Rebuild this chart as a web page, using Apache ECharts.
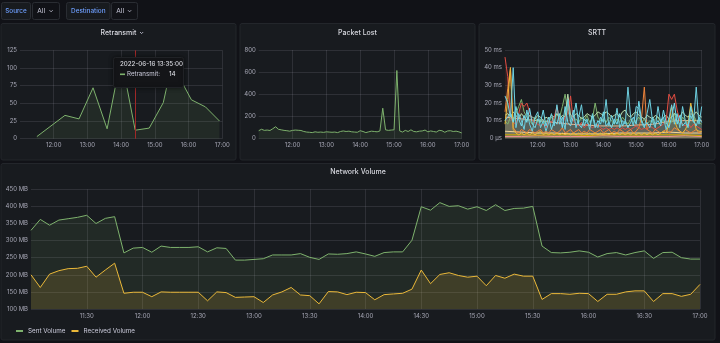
<!DOCTYPE html>
<html>
<head>
<meta charset="utf-8">
<script src="https://cdn.jsdelivr.net/npm/echarts@6/dist/echarts.min.js"></script>
<style>
html,body{margin:0;padding:0;background:#111217;}
#c{width:720px;height:343px;}
</style>
</head>
<body>
<div id="c"></div>
<script>
// ---------------- DATA ----------------
const sourceLabel = "Source";
const destinationLabel = "Destination";
const allLabel = "All";
const panelTitles = ["Retransmit", "Packet Lost", "SRTT", "Network Volume"];

const rangeStart = "11:00";
const rangeEnd = "17:00";
const stepMinutes = 5;

const retransmitTimes = ["11:30","12:20","12:45","13:10","13:35","14:00","14:25","14:50","15:15","15:28","15:40","16:05","16:30","16:55"];
const retransmitValues = [3,33,28,72,14,115,12,15,51,98,92,55,45,25];
const crosshairTime = "14:25";
const tooltipDate = "2022-06-16 13:35:00";
const tooltipSeries = "Retransmit:";
const tooltipValue = "14";

const packetLostValues = [
  72,85,75,78,74,90,108,85,80,75,72,68,
  75,78,76,74,65,60,58,55,62,58,60,57,
  62,60,58,60,55,65,70,65,68,62,60,58,
  72,65,55,62,68,65,62,70,275,80,75,78,
  80,615,70,60,75,65,80,65,62,68,70,78,
  62,70,65,60,75,72,58,70,72,65,68,62,
  52
];

const srttCyanA = [
  24,20,12,40,6,14,10,5,16,8,4,12,
  15,6,10,4,9,14,7,19,8,12,5,22,
  9,16,6,12,19,7,11,5,14,8,6,12,
  9,22,7,13,8,17,6,10,8,29,12,7,
  18,17,9,6,14,22,10,6,18,9,12,5,
  11,19,8,14,6,18,10,7,13,9,29,8,
  18
];
const srttCyanB = [
  10,12,14,9,18,11,7,13,9,17,8,6,
  11,9,16,7,12,5,10,8,14,6,18,9,
  7,12,20,8,6,11,9,7,13,6,10,8,
  15,7,9,6,11,8,14,7,10,6,9,12,
  8,21,10,7,9,6,12,8,10,7,16,9,
  6,12,20,8,13,7,9,6,18,10,7,12,
  9
];
const srttPaleGreen = [
  13,14,12,15,13,11,14,12,10,13,12,11,
  13,12,10,12,11,13,12,14,11,13,12,25,
  13,12,14,13,11,12,14,13,12,13,15,14,
  13,15,14,12,13,14,12,15,16,13,12,14,
  15,13,12,11,13,12,11,13,12,10,12,13,
  11,12,14,13,12,15,13,12,14,13,15,13,
  12
];
const srttRed = [
  46,35,12,9,8,14,20,18,20,15,10,9,
  8,7,8,6,10,9,12,18,10,8,12,14,
  24,10,8,7,9,6,8,7,6,7,8,6,
  5,6,5,6,5,6,5,6,5,6,5,6,
  7,6,5,6,5,7,6,5,6,7,8,10,
  25,22,25,16,10,8,7,9,6,8,7,6,
  5
];
const srttOrange = [
  15,28,40,6,4,3,5,4,3,5,4,3,
  4,5,3,4,3,5,4,3,4,6,3,4,
  5,3,4,5,3,4,3,5,4,3,4,5,
  3,4,5,3,4,3,5,4,3,4,5,3,
  4,6,12,29,5,4,3,5,4,3,4,5,
  3,4,6,5,4,3,5,4,3,4,5,3,
  4
];
const srttYellow = [
  8,22,40,5,3,2,3,2,3,2,3,2,
  3,4,2,3,2,3,2,3,2,3,2,3,
  2,3,2,3,2,3,2,3,2,3,2,3,
  2,3,2,3,2,3,2,3,2,3,2,3,
  2,3,2,3,2,3,2,3,2,3,4,3,
  8,18,10,6,4,3,5,8,20,12,5,4,
  4
];
const srttGreen = [
  10,8,12,9,14,18,22,15,12,10,8,12,
  9,11,8,10,9,12,10,14,12,18,25,15,
  12,10,11,9,12,10,13,9,11,20,12,10,
  11,9,12,10,8,11,9,12,10,8,11,9,
  10,12,9,11,8,10,9,11,12,9,10,8,
  11,9,14,10,8,12,10,9,11,13,10,9,
  8
];
const srttSmoothTimes = ["11:00","11:30","12:00","12:30","13:00","13:30","14:00","14:30","15:00","15:30","16:00","16:30","17:00"];
const srttPeach = [12,11,10,9,8,7.5,7,7,7.5,8,9.5,10,10];
const srttLowYellow = [4,3.5,3,3,2.5,2.5,2.5,3,3,3,3.5,3,3];
const srttLowPink = [1,1,1.5,1,1,1,1.5,1,1,1,1,1.5,1];
const srttLowGold = [2,2,1.8,2,2,1.5,2,2,1.8,2,2,2,1.5];

const sentVolume = [
  330,362,345,360,364,368,374,350,365,370,264,278,
  280,266,284,280,280,280,282,267,279,277,243,243,
  245,247,258,258,258,262,251,245,261,260,262,267,
  261,254,265,267,267,301,399,389,411,400,402,392,
  399,388,405,388,394,395,400,284,265,264,266,270,
  266,252,262,265,258,265,270,248,265,266,250,246,
  246
];
const receivedVolume = [
  200,163,202,212,218,219,225,193,214,234,146,149,
  149,136,150,149,149,149,149,124,150,148,134,135,
  136,119,141,150,163,141,139,115,151,150,142,149,
  148,127,142,144,146,158,214,174,201,206,198,193,
  196,168,198,190,202,196,196,128,145,145,143,146,
  145,122,143,143,150,153,153,122,145,145,137,143,
  172
];
const volumeLegend = ["Sent Volume", "Received Volume"];

// ---------------- HELPERS ----------------
function absMin(t){ const p = t.split(':').map(Number); return p[0]*60 + p[1]; }
const baseMin = absMin(rangeStart);
const spanMin = absMin(rangeEnd) - baseMin;
function toX(t){ return absMin(t) - baseMin; }
function fmt(m){ const a = baseMin + m; const h = Math.floor(a/60), mm = a % 60; return (h<10?'0':'')+h+':'+(mm<10?'0':'')+mm; }
const gridTimes = [];
for (let m = 0; m <= spanMin; m += stepMinutes) gridTimes.push(fmt(m));
function pairs(times, vals){ return vals.map((v,i)=>[toX(times[i]), v]); }

const FONT = 'Inter';
const gridColor = 'rgba(204,204,220,0.12)';
const labelColor = 'rgba(204,204,220,0.78)';
const titleColor = '#d8d9e0';

function xAxisCfg(gi, interval){
  return {type:'value', gridIndex:gi, min:0, max:spanMin, interval:interval,
    axisLine:{show:false}, axisTick:{show:false},
    splitLine:{show:true, showMinLine:false, lineStyle:{color:gridColor, width:1}},
    axisLabel:{color:labelColor, fontSize:6, fontFamily:FONT, margin:4,
      formatter:v => v===0 ? '' : fmt(v)}};
}
function yAxisCfg(gi, min, max, interval, fmtFn){
  return {type:'value', gridIndex:gi, min:min, max:max, interval:interval,
    axisLine:{show:false}, axisTick:{show:false},
    splitLine:{show:true, lineStyle:{color:gridColor, width:1}},
    axisLabel:{color:labelColor, fontSize:6, fontFamily:FONT, margin:3, formatter:fmtFn}};
}
function lineSeries(name, gi, data, color, fillOpacity, extra){
  return Object.assign({name:name, type:'line', xAxisIndex:gi, yAxisIndex:gi, data:data,
    showSymbol:false, symbol:'none', silent:true, animation:false,
    lineStyle:{color:color, width:1}, itemStyle:{color:color},
    areaStyle:{color:color, opacity:fillOpacity}, emphasis:{disabled:true}}, extra||{});
}

// ---------------- CHART ----------------
const chart = echarts.init(document.getElementById('c'), null, {renderer:'canvas'});

const srttSeries = [
  lineSeries('lowPink', 2, pairs(srttSmoothTimes, srttLowPink), '#F29191', 0.1),
  lineSeries('lowGold', 2, pairs(srttSmoothTimes, srttLowGold), '#CCA300', 0.1),
  lineSeries('lowYellow', 2, pairs(srttSmoothTimes, srttLowYellow), '#F4D598', 0.1),
  lineSeries('peach', 2, pairs(srttSmoothTimes, srttPeach), '#F9BA8F', 0.1, {smooth:true}),
  lineSeries('green', 2, pairs(gridTimes, srttGreen), '#7EB26D', 0.1),
  lineSeries('paleGreen', 2, pairs(gridTimes, srttPaleGreen), '#B7DBAB', 0.1),
  lineSeries('red', 2, pairs(gridTimes, srttRed), '#E24D42', 0.1),
  lineSeries('orange', 2, pairs(gridTimes, srttOrange), '#EF843C', 0.1),
  lineSeries('yellow', 2, pairs(gridTimes, srttYellow), '#EAB839', 0.1),
  lineSeries('cyanB', 2, pairs(gridTimes, srttCyanB), '#70DBED', 0.1),
  lineSeries('cyanA', 2, pairs(gridTimes, srttCyanA), '#6ED0E0', 0.1)
];

const gfx = [];
function panel(x,y,w,h){ gfx.push({type:'rect', z:-10, shape:{x:x,y:y,width:w,height:h,r:2}, style:{fill:'#181b1f', stroke:'#23262b', lineWidth:1}}); }
function txt(x,y,s,opt){ gfx.push({type:'text', z:(opt&&opt.z)||5, x:x, y:y, style:Object.assign({text:s, fill:titleColor, font:'500 7px '+FONT, textAlign:'center', textVerticalAlign:'middle'}, (opt&&opt.style)||{})}); }
function chevron(x,y,z){ gfx.push({type:'polyline', z:z||5, shape:{points:[[x,y],[x+1.6,y+1.6],[x+3.2,y]]}, style:{stroke:'#ccccdc', lineWidth:0.8, fill:null}}); }

// top bar
gfx.push({type:'rect', z:-10, shape:{x:1.5,y:2.5,width:29,height:17,r:2}, style:{fill:'#181b1f', stroke:'#2a2d33', lineWidth:1}});
gfx.push({type:'rect', z:-10, shape:{x:32.5,y:2.5,width:27,height:17,r:2}, style:{fill:'#111217', stroke:'#2a2d33', lineWidth:1}});
gfx.push({type:'rect', z:-10, shape:{x:66.5,y:2.5,width:43.5,height:17,r:2}, style:{fill:'#181b1f', stroke:'#2a2d33', lineWidth:1}});
gfx.push({type:'rect', z:-10, shape:{x:111.5,y:2.5,width:26,height:17,r:2}, style:{fill:'#111217', stroke:'#2a2d33', lineWidth:1}});
txt(16, 11, sourceLabel, {style:{fill:'#6E9FFF', font:'500 6.4px '+FONT}});
txt(37.3, 11, allLabel, {style:{fill:'#ccccdc', font:'6.6px '+FONT, textAlign:'left'}});
chevron(49.5, 10.2);
txt(88.3, 11, destinationLabel, {style:{fill:'#6E9FFF', font:'500 6.4px '+FONT}});
txt(116.3, 11, allLabel, {style:{fill:'#ccccdc', font:'6.6px '+FONT, textAlign:'left'}});
chevron(128, 10.2);

// panels
panel(1, 23.5, 235, 136.5);
panel(240, 23.5, 235, 136.5);
panel(479, 23.5, 236, 136.5);
panel(1, 163.5, 714, 176.5);
txt(118.5, 32.5, panelTitles[0]);
chevron(140, 32);
txt(357.5, 32.5, panelTitles[1]);
txt(597, 32.5, panelTitles[2]);
txt(358, 172, panelTitles[3]);

// tooltip
gfx.push({type:'rect', z:100, shape:{x:113.5,y:57.5,width:70,height:30,r:2}, style:{fill:'#141518', stroke:'#202226', lineWidth:1, shadowBlur:4, shadowColor:'rgba(0,0,0,0.5)'}});
txt(120, 64.5, tooltipDate, {z:101, style:{textAlign:'left', font:'500 6.2px '+FONT, fill:'#d8d9e0'}});
gfx.push({type:'rect', z:101, shape:{x:120,y:73.5,width:5,height:1.6}, style:{fill:'#7EB26D'}});
txt(127, 74.5, tooltipSeries, {z:101, style:{textAlign:'left', font:'6.2px '+FONT, fill:'#ccccdc'}});
txt(169, 74.5, tooltipValue, {z:101, style:{textAlign:'left', font:'500 6.2px '+FONT, fill:'#d8d9e0'}});

const option = {
  backgroundColor:'#111217',
  animation:false,
  textStyle:{fontFamily:FONT},
  grid:[
    {left:20, top:50.3, width:202.3, height:88.4, outerBoundsMode:'none'},
    {left:258.7, top:50, width:203, height:88.7, outerBoundsMode:'none'},
    {left:505, top:50, width:196.7, height:88.3, outerBoundsMode:'none'},
    {left:31, top:189.3, width:669, height:119.7, outerBoundsMode:'none'}
  ],
  xAxis:[xAxisCfg(0,60), xAxisCfg(1,60), xAxisCfg(2,60), xAxisCfg(3,30)],
  yAxis:[
    yAxisCfg(0, 0, 125, 25, v => String(v)),
    yAxisCfg(1, 0, 800, 200, v => String(v)),
    yAxisCfg(2, 0, 50, 10, v => v===0 ? '0 µs' : v + ' ms'),
    yAxisCfg(3, 100, 450, 50, v => v + ' MB')
  ],
  legend:{left:11, top:323, itemWidth:7, itemHeight:2, itemGap:6, icon:'rect',
    data:volumeLegend, selectedMode:false,
    textStyle:{color:'#ccccdc', fontSize:6.3, fontFamily:FONT}},
  graphic:{elements:gfx},
  series:[
    lineSeries('Retransmit', 0, pairs(retransmitTimes, retransmitValues), '#7EB26D', 0.1, {
      markLine:{silent:true, symbol:'none', label:{show:false}, animation:false,
        lineStyle:{color:'#a02828', width:1, type:'solid'},
        data:[{xAxis: toX(crosshairTime)}]}
    }),
    lineSeries('Packet Lost', 1, pairs(gridTimes, packetLostValues), '#7EB26D', 0.1),
    ...srttSeries,
    lineSeries('Sent Volume', 3, pairs(gridTimes, sentVolume), '#7EB26D', 0.1),
    lineSeries('Received Volume', 3, pairs(gridTimes, receivedVolume), '#EAB839', 0.15)
  ]
};
chart.setOption(option);
</script>
</body>
</html>
